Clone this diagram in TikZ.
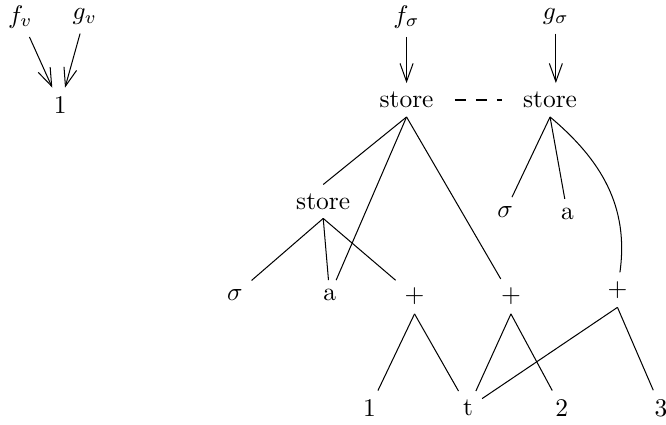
\documentclass[tikz,border=0pt]{standalone}
\usepackage{amsmath, amssymb}
\usetikzlibrary{arrows.meta}

\begin{document}
\begin{tikzpicture}[arr/.style={-{Straight Barb[length=2.5mm,width=1.8mm]}}]
\useasboundingbox (0,0) rectangle (9.19,5.86);
\node (fv) at (0.28,5.63) {$f_v$};
\node (gv) at (1.17,5.63) {$g_v$};
\node (one) at (0.83,4.41) {1};
\node (fs) at (5.61,5.63) {$f_\sigma$};
\node (gs) at (7.67,5.63) {$g_\sigma$};
\node (st1) at (5.61,4.48) {store};
\node (st2) at (7.59,4.48) {store};
\node (st3) at (4.46,3.08) {store};
\node (sg2) at (6.97,2.94) {$\sigma$};
\node (a2) at (7.83,2.91) {a};
\node (sg1) at (3.24,1.79) {$\sigma$};
\node (a1) at (4.55,1.79) {a};
\node (p1) at (5.72,1.77) {$+$};
\node (p2) at (7.05,1.77) {$+$};
\node (p3) at (8.52,1.86) {$+$};
\node (n1) at (5.10,0.23) {1};
\node (t) at (6.46,0.23) {t};
\node (n2) at (7.75,0.23) {2};
\node (n3) at (9.12,0.23) {3};
\draw[arr] (fv) -- (one);
\draw[arr] (gv) -- (one);
\draw[arr] (fs) -- (fs |- st1.north);
\draw[arr] (gs) -- (gs |- st2.north);
\draw[dash pattern=on 4.5pt off 3.75pt, shorten <=0.17cm, shorten >=0.17cm] (st1.east) -- (st2.west);
\draw (st1.south) -- (st3.north);
\draw (st1.south) -- (a1);
\draw (st1.south) -- (p2);
\draw (st2.south) -- (sg2);
\draw (st2.south) -- (a2);
\draw (st2.south) to[out=-40, in=82] (p3);
\draw (st3.south) -- (sg1);
\draw (st3.south) -- (a1);
\draw (st3.south) -- (p1);
\draw (p1.south) -- (n1);
\draw (p1.south) -- (t);
\draw (p2.south) -- (t);
\draw (p2.south) -- (n2);
\draw (p3.south) -- (t);
\draw (p3.south) -- (n3);
\end{tikzpicture}
\end{document}
